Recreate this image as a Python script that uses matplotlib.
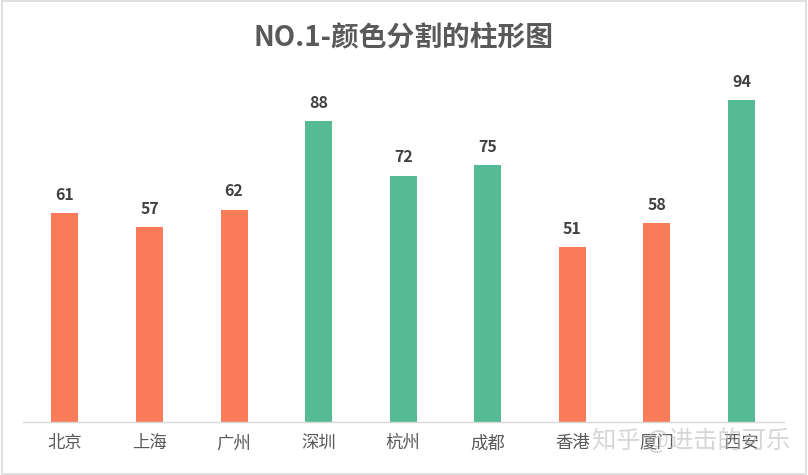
import matplotlib.pyplot as plt
import matplotlib.patches as patches

plt.rcParams['font.family'] = ['Noto Sans CJK SC', 'DejaVu Sans']

# dados
cidades = ['北京', '上海', '广州', '深圳', '杭州', '成都', '香港', '厦门', '西安']
valores = [61, 57, 62, 88, 72, 75, 51, 58, 94]
cores = ['#F97B57', '#F97B57', '#F97B57', '#55BB95', '#55BB95', '#55BB95',
         '#F97B57', '#F97B57', '#55BB95']

fig = plt.figure(figsize=(8.08, 4.75), dpi=100)
ax = fig.add_axes([0.028, 0.112, 0.942, 0.72])

x = range(len(cidades))
barras = ax.bar(x, valores, width=0.32, color=cores)

for i, v in enumerate(valores):
    ax.text(i, v + 3, str(v), ha='center', va='bottom', fontsize=11.5,
            fontweight='bold', color='#404040')

ax.set_xlim(-0.5, len(cidades) - 0.5)
ax.set_ylim(0, 100)
ax.set_xticks(list(x))
ax.set_xticklabels(cidades, fontsize=12.5, color='#595959')
ax.tick_params(axis='x', length=0, pad=9)
ax.set_yticks([])
for s in ['top', 'right', 'left']:
    ax.spines[s].set_visible(False)
ax.spines['bottom'].set_color('#D9D9D9')
ax.spines['bottom'].set_linewidth(1)

fig.text(0.5, 0.922, 'NO.1-颜色分割的柱形图', ha='center', va='center',
         fontsize=20, fontweight='bold', color='#595959')

# marca d'agua
fig.text(0.855, 0.072, '知乎 @进击的可乐', ha='center', va='center',
         fontsize=17.5, color='#BBBBBB', alpha=0.6)

# borda
fig.patches.append(patches.Rectangle((0.002, 0.003), 0.995, 0.994,
                                     transform=fig.transFigure, fill=False,
                                     edgecolor='#D9D9D9', linewidth=1.2))

fig.savefig('out.png', dpi=100)
